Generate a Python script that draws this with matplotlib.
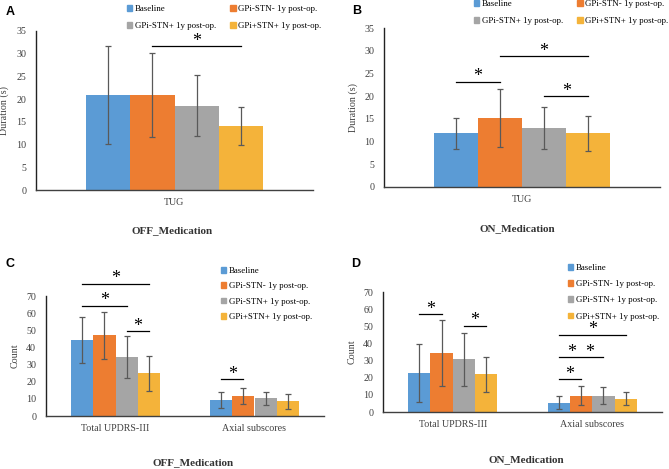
import numpy as np
import matplotlib
matplotlib.use('Agg')
import matplotlib.pyplot as plt
from matplotlib.patches import Patch

# ------------- Datos -------------
series = ["Baseline", "GPi-STN- 1y post-op.", "GPi-STN+ 1y post-op.", "GPi+STN+ 1y post-op."]
colors = ["#5B9BD5", "#ED7D31", "#A5A5A5", "#F4B33A"]

tug_cats = ["TUG"]
tug_off = [[20.9], [20.9], [18.6], [14.0]]
tug_off_err = [[10.8], [9.3], [6.7], [4.2]]
tug_on = [[11.8], [15.2], [12.9], [11.8]]
tug_on_err = [[3.4], [6.4], [4.6], [3.8]]

updrs_cats = ["Total UPDRS-III", "Axial subscores"]
updrs_off = [[44.1, 9.4], [47.0, 11.7], [34.3, 10.3], [25.0, 8.6]]
updrs_off_err = [[13.4, 4.5], [13.9, 4.7], [12.3, 3.9], [10.2, 4.5]]
updrs_on = [[22.7, 5.5], [34.4, 9.6], [30.7, 9.6], [21.9, 7.8]]
updrs_on_err = [[16.8, 3.7], [19.3, 5.6], [15.6, 4.9], [10.1, 3.7]]

# (categoria, serie_i, serie_j, altura, etiqueta)
sig_a = [(0, 1, 3, 31.7, "*")]
sig_b = [(0, 0, 1, 23.2, "*"), (0, 1, 3, 28.8, "*"), (0, 2, 3, 20.0, "*")]
sig_c = [(0, 0, 3, 77.2, "*"), (0, 0, 2, 64.3, "*"), (0, 2, 3, 49.5, "*"), (1, 0, 1, 21.6, "*")]
sig_d = [(0, 0, 1, 57.1, "*"), (0, 2, 3, 50.4, "*"), (1, 0, 1, 19.0, "*"),
         (1, 0, 2, 31.9, "*  *"), (1, 0, 3, 45.0, "*")]

# ------------- Estilo -------------
W, H = 669, 469
SERIF = "Liberation Serif"
plt.rcParams['font.family'] = SERIF
fig = plt.figure(figsize=(W / 100, H / 100), dpi=100)

def fx(x): return x / W
def fy(y): return 1 - y / H

BW = 0.16

def bar_x(cat, i):
    return cat + (i - 1.5) * BW

def panel(rect, cats, vals, errs, ymax, ystep, ylabel, sigs):
    x0, y0, x1, y1 = rect
    ax = fig.add_axes([fx(x0), fy(y1), (x1 - x0) / W, (y1 - y0) / H])
    idx = np.arange(len(cats))
    for i in range(4):
        ax.bar(idx + (i - 1.5) * BW, vals[i], BW, color=colors[i], zorder=2)
        ax.errorbar(idx + (i - 1.5) * BW, vals[i], yerr=errs[i], fmt='none',
                    ecolor="#595959", elinewidth=0.9, capsize=2, capthick=0.9, zorder=3)
    ax.set_xlim(-0.5, len(cats) - 0.5)
    ax.set_ylim(0, ymax)
    ax.set_yticks(np.arange(0, ymax + 1, ystep))
    ax.set_xticks(idx)
    ax.set_xticklabels(cats)
    ax.tick_params(axis='both', length=0, labelsize=7.2, colors="#404040")
    ax.tick_params(axis='y', pad=7)
    ax.tick_params(axis='x', pad=6)
    for s in ['top', 'right']:
        ax.spines[s].set_visible(False)
    ax.spines['left'].set_color("#222222")
    ax.spines['bottom'].set_color("#404040")
    ax.spines['left'].set_linewidth(1.0)
    ax.spines['bottom'].set_linewidth(1.0)
    ax.set_ylabel(ylabel, fontsize=7.2, color="#404040")
    ax.yaxis.set_label_coords(-0.096, 0.5)
    for cat, i, j, y, lab in sigs:
        xa, xb = bar_x(cat, i), bar_x(cat, j)
        ax.plot([xa, xb], [y, y], color="black", lw=0.9, clip_on=False, zorder=4)
        ax.annotate(lab, ((xa + xb) / 2, y), xytext=(0, 3.5), textcoords='offset points',
                    ha='center', va='center', fontsize=13, annotation_clip=False)
    return ax

handles = [Patch(color=c, label=s) for c, s in zip(colors, series)]
leg_kw = dict(loc='upper left', frameon=False, fontsize=6.4, handlelength=0.6,
              handleheight=0.6, handletextpad=0.3, borderpad=0, borderaxespad=0)
order = [0, 2, 1, 3]

# A
ax_a = panel((36, 31, 313, 190), tug_cats, tug_off, tug_off_err, 35, 5, "Duration (s)", sig_a)
fig.legend([handles[k] for k in order], [series[k] for k in order], ncol=2,
           bbox_to_anchor=(fx(127), fy(5)), columnspacing=1.6, labelspacing=1.05, **leg_kw)
# B
ax_b = panel((384, 28, 660, 187), tug_cats, tug_on, tug_on_err, 35, 5, "Duration (s)", sig_b)
fig.legend([handles[k] for k in order], [series[k] for k in order], ncol=2,
           bbox_to_anchor=(fx(474), fy(0)), columnspacing=1.6, labelspacing=1.05, **leg_kw)
# C
ax_c = panel((46, 296, 324, 416), updrs_cats, updrs_off, updrs_off_err, 70, 10, "Count", sig_c)
fig.legend(handles, series, bbox_to_anchor=(fx(221), fy(267)), labelspacing=0.82, **leg_kw)
# D
ax_d = panel((383, 292, 662, 412), updrs_cats, updrs_on, updrs_on_err, 70, 10, "Count", sig_d)
fig.legend(handles, series, bbox_to_anchor=(fx(568), fy(264)), labelspacing=0.92, **leg_kw)

# titulos y letras
for x, y, t in [(172, 231, "OFF_Medication"), (517, 229, "ON_Medication"),
                (193, 463, "OFF_Medication"), (526, 460, "ON_Medication")]:
    fig.text(fx(x), fy(y), t, ha='center', va='center', fontsize=8, fontweight='bold', color="#333333")
for x, y, t in [(10, 12, "A"), (357, 11, "B"), (10, 264, "C"), (356, 264, "D")]:
    fig.text(fx(x), fy(y), t, ha='center', va='center', fontsize=9, fontweight='bold',
             family="Liberation Sans")

fig.savefig("out.png", dpi=100)
